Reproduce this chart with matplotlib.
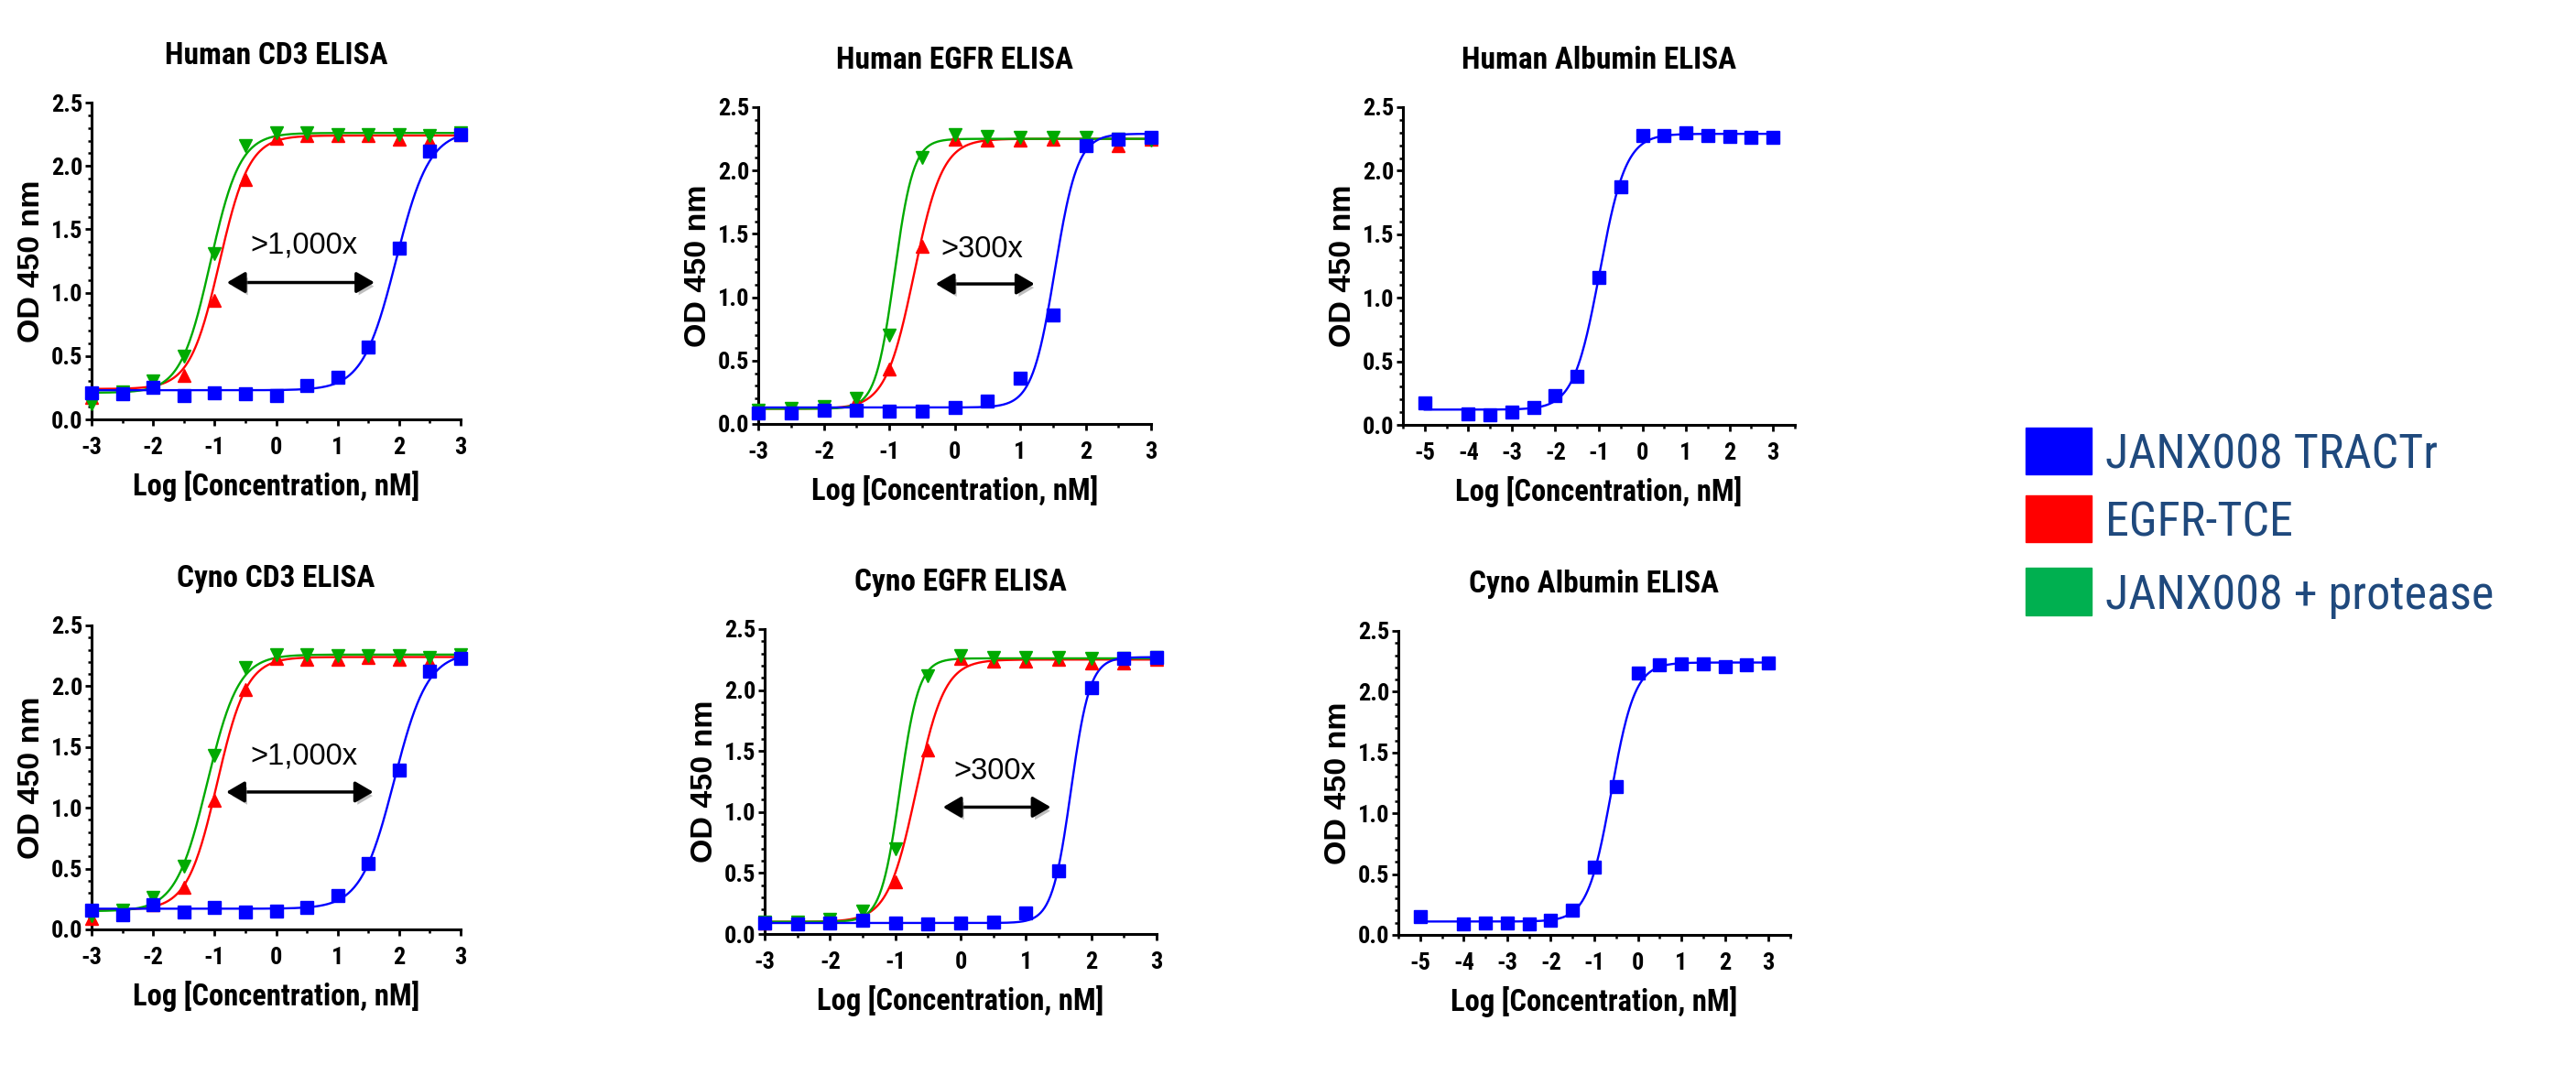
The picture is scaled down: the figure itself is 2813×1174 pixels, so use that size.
import matplotlib
matplotlib.use("Agg")
import matplotlib.pyplot as plt
import matplotlib.patheffects as pe
from matplotlib.patches import Rectangle
from matplotlib.ticker import MultipleLocator
import numpy as np

# narrow, Arial-Narrow-like look
plt.rcParams['font.family'] = ['Roboto Condensed', 'DejaVu Sans']
plt.rcParams['axes.unicode_minus'] = False

W, H = 2813, 1174

# ---- data (log nM, OD 450) ----
log_conc = [-3, -2.5, -2, -1.5, -1, -0.5, 0, 0.5, 1, 1.5, 2, 2.5, 3]
log_conc_alb = [-5, -4, -3.5, -3, -2.5, -2, -1.5, -1, -0.5, 0, 0.5, 1, 1.5, 2, 2.5, 3]

series_names = ['JANX008 TRACTr', 'EGFR-TCE', 'JANX008 + protease']

h_cd3_tractr = [0.21, 0.20, 0.25, 0.19, 0.21, 0.20, 0.19, 0.27, 0.33, 0.57, 1.35, 2.12, 2.25]
h_cd3_tce = [0.17, 0.22, 0.26, 0.35, 0.94, 1.89, 2.22, 2.24, 2.24, 2.24, 2.21, 2.20, 2.25]
h_cd3_prot = [0.12, 0.22, 0.30, 0.50, 1.31, 2.16, 2.26, 2.26, 2.25, 2.25, 2.25, 2.24, 2.26]

h_egfr_tractr = [0.09, 0.09, 0.11, 0.11, 0.10, 0.10, 0.13, 0.18, 0.36, 0.86, 2.20, 2.25, 2.26]
h_egfr_tce = [0.11, 0.11, 0.12, 0.18, 0.43, 1.40, 2.25, 2.24, 2.24, 2.25, 2.22, 2.20, 2.25]
h_egfr_prot = [0.11, 0.12, 0.14, 0.20, 0.70, 2.10, 2.28, 2.27, 2.26, 2.26, 2.26, 2.25, 2.24]

h_alb_tractr = [0.17, 0.09, 0.08, 0.10, 0.14, 0.23, 0.38, 1.16, 1.87, 2.28, 2.28, 2.30, 2.28, 2.27, 2.26, 2.26]

c_cd3_tractr = [0.16, 0.12, 0.20, 0.14, 0.18, 0.14, 0.15, 0.18, 0.28, 0.54, 1.31, 2.12, 2.23]
c_cd3_tce = [0.09, 0.16, 0.20, 0.35, 1.06, 1.97, 2.23, 2.22, 2.22, 2.24, 2.22, 2.20, 2.24]
c_cd3_prot = [0.11, 0.16, 0.26, 0.52, 1.43, 2.15, 2.26, 2.26, 2.25, 2.25, 2.25, 2.24, 2.26]

c_egfr_tractr = [0.09, 0.08, 0.09, 0.11, 0.09, 0.08, 0.09, 0.10, 0.17, 0.52, 2.02, 2.26, 2.27]
c_egfr_tce = [0.09, 0.09, 0.11, 0.12, 0.43, 1.51, 2.26, 2.24, 2.24, 2.25, 2.22, 2.22, 2.25]
c_egfr_prot = [0.10, 0.10, 0.12, 0.19, 0.70, 2.12, 2.28, 2.27, 2.27, 2.27, 2.26, 2.26, 2.27]

c_alb_tractr = [0.15, 0.09, 0.10, 0.10, 0.09, 0.12, 0.20, 0.56, 1.22, 2.15, 2.22, 2.23, 2.23, 2.21, 2.22, 2.24]

# 4PL fit parameters: bottom, top, logEC50, hill
fit_h_cd3 = [(0.23, 2.28, 1.95, 1.6), (0.24, 2.24, -0.92, 1.8), (0.21, 2.26, -1.07, 1.8)]
fit_h_egfr = [(0.13, 2.29, 1.53, 2.5), (0.12, 2.25, -0.62, 2.0), (0.12, 2.25, -0.92, 3.0)]
fit_h_alb = [(0.12, 2.29, -0.98, 1.45)]
fit_c_cd3 = [(0.17, 2.28, 1.92, 1.6), (0.16, 2.24, -0.96, 1.8), (0.15, 2.26, -1.12, 1.7)]
fit_c_egfr = [(0.09, 2.27, 1.69, 3.0), (0.10, 2.25, -0.68, 2.0), (0.10, 2.26, -0.93, 3.0)]
fit_c_alb = [(0.11, 2.24, -0.61, 1.6)]

colors = ['#0000FF', '#FF0000', '#00AA00']
legend_colors = ['#0000FF', '#FF0000', '#00B050']
markers = ['s', '^', 'v']


def four_pl(x, bottom, top, ec50, hill):
    return bottom + (top - bottom) / (1 + 10 ** ((ec50 - x) * hill))


def px_rect(x0, y0, x1, y1):
    return [x0 / W, 1 - y1 / H, (x1 - x0) / W, (y1 - y0) / H]


fig = plt.figure(figsize=(W / 100, H / 100), dpi=100)

panels = [
    dict(title='Human CD3 ELISA', box=(100, 112, 503, 458), x=log_conc,
         ys=[h_cd3_tractr, h_cd3_tce, h_cd3_prot], fits=fit_h_cd3,
         label='>1,000x', lab_xy=(0.45, 1.37), arr=(-0.80, 1.60, 1.08)),
    dict(title='Human EGFR ELISA', box=(828, 117, 1257, 463), x=log_conc,
         ys=[h_egfr_tractr, h_egfr_tce, h_egfr_prot], fits=fit_h_egfr,
         label='>300x', lab_xy=(0.41, 1.38), arr=(-0.29, 1.22, 1.105)),
    dict(title='Human Albumin ELISA', box=(1532, 117, 1960, 464), x=log_conc_alb,
         ys=[h_alb_tractr], fits=fit_h_alb),
    dict(title='Cyno CD3 ELISA', box=(100, 683, 503, 1015), x=log_conc,
         ys=[c_cd3_tractr, c_cd3_tce, c_cd3_prot], fits=fit_c_cd3,
         label='>1,000x', lab_xy=(0.45, 1.42), arr=(-0.81, 1.58, 1.13)),
    dict(title='Cyno EGFR ELISA', box=(835, 687, 1263, 1020), x=log_conc,
         ys=[c_egfr_tractr, c_egfr_tce, c_egfr_prot], fits=fit_c_egfr,
         label='>300x', lab_xy=(0.52, 1.33), arr=(-0.27, 1.38, 1.04)),
    dict(title='Cyno Albumin ELISA', box=(1527, 689, 1955, 1021), x=log_conc_alb,
         ys=[c_alb_tractr], fits=fit_c_alb),
]

for p in panels:
    ax = fig.add_axes(px_rect(*p['box']))
    alb = len(p['ys']) == 1
    xs = np.linspace(min(p['x']), max(p['x']), 400)
    # red and green first, blue on top
    order = [0] if alb else [1, 2, 0]
    for i in order:
        ax.plot(xs, four_pl(xs, *p['fits'][i]), color=colors[i], lw=1.7, zorder=3 + (i == 0))
        ax.plot(p['x'], p['ys'][i], linestyle='none', marker=markers[i], ms=9.5,
                color=colors[i], clip_on=False, zorder=5 + (i == 0))
    ax.set_ylim(0, 2.5)
    ax.yaxis.set_major_locator(MultipleLocator(0.5))
    ax.yaxis.set_minor_locator(MultipleLocator(0.1))
    ax.yaxis.set_major_formatter(lambda v, pos: f'{v:.1f}')
    if alb:
        ax.set_xlim(-5.5, 3.5)
        ax.set_xticks(np.arange(-5, 3.5, 1))
        ax.set_xticks(np.arange(-5.5, 3.6, 0.5), minor=True)
    else:
        ax.set_xlim(-3, 3)
        ax.xaxis.set_major_locator(MultipleLocator(1))
        ax.xaxis.set_minor_locator(MultipleLocator(0.5))
    ax.xaxis.set_major_formatter(lambda v, pos: f'{v:.0f}')
    for s in ['top', 'right']:
        ax.spines[s].set_visible(False)
    for s in ['left', 'bottom']:
        ax.spines[s].set_linewidth(2.2)
    ax.tick_params(which='major', direction='out', length=5, width=2, labelsize=19)
    ax.tick_params(which='minor', direction='out', length=3, width=1.8)
    ax.tick_params(axis='x', which='major', pad=9)
    ax.tick_params(axis='y', which='major', pad=2)
    for t in ax.get_xticklabels() + ax.get_yticklabels():
        t.set_fontweight('bold')
    ax.set_title(p['title'], fontsize=24, fontweight='bold', pad=30)
    ax.set_xlabel('Log [Concentration, nM]', fontsize=23.5, fontweight='bold', labelpad=9)
    ax.set_ylabel('OD 450 nm', fontsize=24.5, fontweight='bold', labelpad=4,
                  family=['Liberation Sans', 'DejaVu Sans'])

    if 'label' in p:
        ax.text(*p['lab_xy'], p['label'], fontsize=23.5, ha='center', va='center', zorder=6,
                family=['Liberation Sans', 'DejaVu Sans'])
        x0, x1, y = p['arr']
        ann = ax.annotate('', xy=(x1, y), xytext=(x0, y),
                          arrowprops=dict(arrowstyle='<|-|>,head_length=0.6,head_width=0.35',
                                          color='black', lw=2.5, mutation_scale=20,
                                          shrinkA=0, shrinkB=0))
        ann.arrow_patch.set_path_effects([
            pe.SimplePatchShadow(offset=(2, -3), shadow_rgbFace='gray', alpha=0.5),
            pe.Normal()])

# legend on the right
rows = [(467, 518), (541, 592), (620, 672)]
baselines = [512, 585, 665]
for name, col, (y0, y1), base in zip(series_names, legend_colors, rows, baselines):
    fig.patches.append(Rectangle((2212 / W, 1 - y1 / H), 72 / W, (y1 - y0) / H,
                                 transform=fig.transFigure, color=col, zorder=1))
    fig.text(2299 / W, 1 - base / H, name, fontsize=37.5, color='#1F497D',
             ha='left', va='baseline')

fig.savefig('out.png', dpi=100)
